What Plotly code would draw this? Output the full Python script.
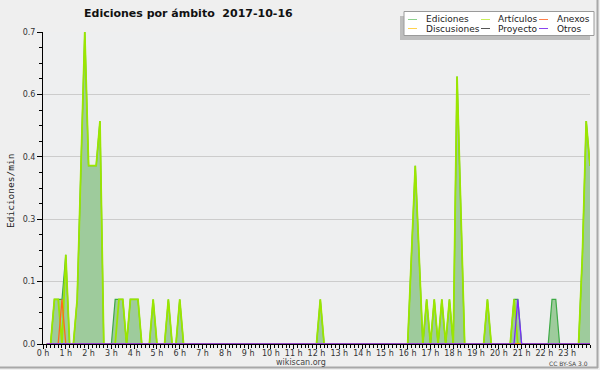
import plotly.graph_objects as go

# ---------------- data (edits per minute, 10-minute bins, 2 hours per row) ----------------
ediciones = [
    0, 0, .1, .1, .1, .2, 0, 0, .1, .4, .7, .4,
    .4, .4, .5, 0, 0, 0, .1, .1, .1, 0, .1, .1,
    .1, 0, 0, 0, .1, 0, 0, 0, .1, 0, 0, .1,
    0, 0, 0, 0, 0, 0, 0, 0, 0, 0, 0, 0,
    0, 0, 0, 0, 0, 0, 0, 0, 0, 0, 0, 0,
    0, 0, 0, 0, 0, 0, 0, 0, 0, 0, 0, 0,
    .1, 0, 0, 0, 0, 0, 0, 0, 0, 0, 0, 0,
    0, 0, 0, 0, 0, 0, 0, 0, 0, 0, 0, 0,
    .2, .4, .2, 0, .1, 0, .1, 0, .1, 0, .1, 0,
    .6, .3, 0, 0, 0, 0, 0, 0, .1, 0, 0, 0,
    0, 0, 0, .1, .1, 0, 0, 0, 0, 0, 0, 0,
    0, .1, .1, 0, 0, 0, 0, 0, 0, .2, .5, .4,
]
articulos = [
    0, 0, .1, .1, 0, .2, 0, 0, .1, .4, .7, .4,
    .4, .4, .5, 0, 0, 0, 0, .1, .1, 0, .1, .1,
    .1, 0, 0, 0, .1, 0, 0, 0, .1, 0, 0, .1,
    0, 0, 0, 0, 0, 0, 0, 0, 0, 0, 0, 0,
    0, 0, 0, 0, 0, 0, 0, 0, 0, 0, 0, 0,
    0, 0, 0, 0, 0, 0, 0, 0, 0, 0, 0, 0,
    .1, 0, 0, 0, 0, 0, 0, 0, 0, 0, 0, 0,
    0, 0, 0, 0, 0, 0, 0, 0, 0, 0, 0, 0,
    .2, .4, .2, 0, .1, 0, .1, 0, .1, 0, .1, 0,
    .6, .3, 0, 0, 0, 0, 0, 0, .1, 0, 0, 0,
    0, 0, 0, .1, 0, 0, 0, 0, 0, 0, 0, 0,
    0, 0, 0, 0, 0, 0, 0, 0, 0, .2, .5, .4,
]
anexos = [
    0, 0, 0, 0, .1, 0, 0, 0, 0, 0, 0, 0,
    0, 0, 0, 0, 0, 0, 0, 0, 0, 0, 0, 0,
    0, 0, 0, 0, 0, 0, 0, 0, 0, 0, 0, 0,
    0, 0, 0, 0, 0, 0, 0, 0, 0, 0, 0, 0,
    0, 0, 0, 0, 0, 0, 0, 0, 0, 0, 0, 0,
    0, 0, 0, 0, 0, 0, 0, 0, 0, 0, 0, 0,
    0, 0, 0, 0, 0, 0, 0, 0, 0, 0, 0, 0,
    0, 0, 0, 0, 0, 0, 0, 0, 0, 0, 0, 0,
    0, 0, 0, 0, 0, 0, 0, 0, 0, 0, 0, 0,
    0, 0, 0, 0, 0, 0, 0, 0, 0, 0, 0, 0,
    0, 0, 0, 0, 0, 0, 0, 0, 0, 0, 0, 0,
    0, 0, 0, 0, 0, 0, 0, 0, 0, 0, 0, 0,
]
otros = [
    0, 0, 0, 0, 0, 0, 0, 0, 0, 0, 0, 0,
    0, 0, 0, 0, 0, 0, 0, 0, 0, 0, 0, 0,
    0, 0, 0, 0, 0, 0, 0, 0, 0, 0, 0, 0,
    0, 0, 0, 0, 0, 0, 0, 0, 0, 0, 0, 0,
    0, 0, 0, 0, 0, 0, 0, 0, 0, 0, 0, 0,
    0, 0, 0, 0, 0, 0, 0, 0, 0, 0, 0, 0,
    0, 0, 0, 0, 0, 0, 0, 0, 0, 0, 0, 0,
    0, 0, 0, 0, 0, 0, 0, 0, 0, 0, 0, 0,
    0, 0, 0, 0, 0, 0, 0, 0, 0, 0, 0, 0,
    0, 0, 0, 0, 0, 0, 0, 0, 0, 0, 0, 0,
    0, 0, 0, 0, .1, 0, 0, 0, 0, 0, 0, 0,
    0, 0, 0, 0, 0, 0, 0, 0, 0, 0, 0, 0,
]
discusiones = [0] * 144
proyecto = [0] * 144

series_names = ["Ediciones", "Artículos", "Anexos", "Discusiones", "Proyecto", "Otros"]
x_tick_values = list(range(24))
x_tick_labels = ["0 h", "1 h", "2 h", "3 h", "4 h", "5 h", "6 h", "7 h", "8 h", "9 h",
                 "10 h", "11 h", "12 h", "13 h", "14 h", "15 h", "16 h", "17 h", "18 h",
                 "19 h", "20 h", "21 h", "22 h", "23 h"]
y_tick_values = [0, 0.14, 0.28, 0.42, 0.56, 0.7]
y_tick_labels = ["0.0", "0.1", "0.3", "0.4", "0.6", "0.7"]

# time of each 10-minute bin (end of bin), in hours
times = [(i + 1) / 6 for i in range(len(ediciones))]

# ---------------- styling ----------------
line_colors = {
    "Ediciones": "#3daa45",
    "Artículos": "#9be600",
    "Anexos": "#ff6a1a",
    "Discusiones": "#ffcc33",
    "Proyecto": "#555555",
    "Otros": "#7a2cff",
}
legend_colors = {
    "Ediciones": "#8cd18c",
    "Artículos": "#c8ee5a",
    "Anexos": "#ff7f4a",
    "Discusiones": "#ffd24d",
    "Proyecto": "#555555",
    "Otros": "#8a44f0",
}

L, R, T, B = 43, 590, 32, 344
W, H = 600, 370


def px(xp):
    return (xp - L) / (R - L)


def py(yp):
    return (B - yp) / (B - T)


fig = go.Figure()
fig.add_trace(go.Scatter(x=times, y=ediciones, mode="lines", name="Ediciones",
                         line=dict(color=line_colors["Ediciones"], width=1.2),
                         fill="tozeroy", fillcolor="#9ecb9c", showlegend=False))
for name, vals in [("Discusiones", discusiones), ("Proyecto", proyecto),
                   ("Artículos", articulos), ("Anexos", anexos), ("Otros", otros)]:
    fig.add_trace(go.Scatter(x=times, y=vals, mode="lines", name=name,
                             line=dict(color=line_colors[name],
                                       width=1.8 if name == "Artículos" else 1.3),
                             showlegend=False))

tick_font = dict(family="DejaVu Sans", size=8, color="#333333")

fig.update_layout(
    width=W, height=H,
    margin=dict(l=L, r=W - R, t=T, b=H - B),
    paper_bgcolor="#efefef",
    plot_bgcolor="#eeeff0",
    showlegend=False,
    xaxis=dict(range=[0, 24], showgrid=False, zeroline=False,
               showline=True, linecolor="black", linewidth=1,
               tickmode="array", tickvals=x_tick_values, ticktext=x_tick_labels,
               ticks="outside", ticklen=4, tickcolor="black", tickfont=tick_font,
               ticklabelstandoff=-3,
               minor=dict(dtick=1 / 6, tick0=0, ticks="outside", ticklen=3,
                          tickcolor="black", showgrid=False)),
    yaxis=dict(range=[0, 0.7], showgrid=True, gridcolor="#cccccc", gridwidth=1,
               zeroline=False, showline=True, linecolor="black", linewidth=1,
               tickmode="array", tickvals=y_tick_values, ticktext=y_tick_labels,
               ticks="outside", ticklen=5, tickcolor="black", tickfont=tick_font,
               minor=dict(dtick=0.035, tick0=0, ticks="outside", ticklen=3,
                          tickcolor="black", showgrid=False)),
)

shapes = []
annotations = []

# title & texts
annotations.append(dict(text="Ediciones por ámbito\u00a0\u00a02017-10-16", xref="paper", yref="paper",
                        x=px(188), y=py(13.5), xanchor="center", yanchor="middle", showarrow=False,
                        font=dict(family="DejaVu Sans", size=11, color="#111111", weight="bold")))
annotations.append(dict(text="Ediciones/min", xref="paper", yref="paper", x=px(10), y=py(191),
                        xanchor="center", yanchor="middle", textangle=-90, showarrow=False,
                        font=dict(family="DejaVu Sans Mono", size=9.5, color="#222222")))
annotations.append(dict(text="wikiscan.org", xref="paper", yref="paper", x=px(301), y=py(362),
                        xanchor="center", yanchor="middle", showarrow=False,
                        font=dict(family="DejaVu Sans", size=8, color="#444444")))
annotations.append(dict(text="CC BY-SA 3.0", xref="paper", yref="paper", x=px(590), y=py(363),
                        xanchor="right", yanchor="middle", showarrow=False,
                        font=dict(family="DejaVu Sans", size=6, color="#444444")))

# legend box with shadow
shapes.append(dict(type="rect", xref="paper", yref="paper", x0=px(400), x1=px(590), y0=py(16), y1=py(40),
                   fillcolor="#bdbdbd", line=dict(width=0), layer="above"))
shapes.append(dict(type="rect", xref="paper", yref="paper", x0=px(404), x1=px(594), y0=py(11.5), y1=py(35.5),
                   fillcolor="#ffffff", line=dict(color="#9a9a9a", width=1), layer="above"))
legend_pos = {
    "Ediciones": (408, 424, 19.5), "Artículos": (481, 496, 19.5), "Anexos": (539, 555, 19.5),
    "Discusiones": (408, 424, 28.5), "Proyecto": (481, 496, 28.5), "Otros": (539, 555, 28.5),
}
for name in series_names:
    lx, tx, ly = legend_pos[name]
    shapes.append(dict(type="line", xref="paper", yref="paper", x0=px(lx), x1=px(lx + 9),
                       y0=py(ly), y1=py(ly), line=dict(color=legend_colors[name], width=1), layer="above"))
    annotations.append(dict(text=name, xref="paper", yref="paper", x=px(tx), y=py(ly),
                            xanchor="left", yanchor="middle", showarrow=False,
                            font=dict(family="DejaVu Sans", size=9, color="#222222")))

# outer frame (right and bottom edges)
shapes.append(dict(type="line", xref="paper", yref="paper", x0=px(597.5), x1=px(597.5), y0=py(0), y1=py(368),
                   line=dict(color="#a8a8a8", width=2), layer="above"))
shapes.append(dict(type="line", xref="paper", yref="paper", x0=px(0), x1=px(598), y0=py(367.5), y1=py(367.5),
                   line=dict(color="#a8a8a8", width=2), layer="above"))

fig.update_layout(shapes=shapes, annotations=annotations)
fig.write_html("out.html", config={"displayModeBar": False},
               post_script="document.body.style.margin='0';")
